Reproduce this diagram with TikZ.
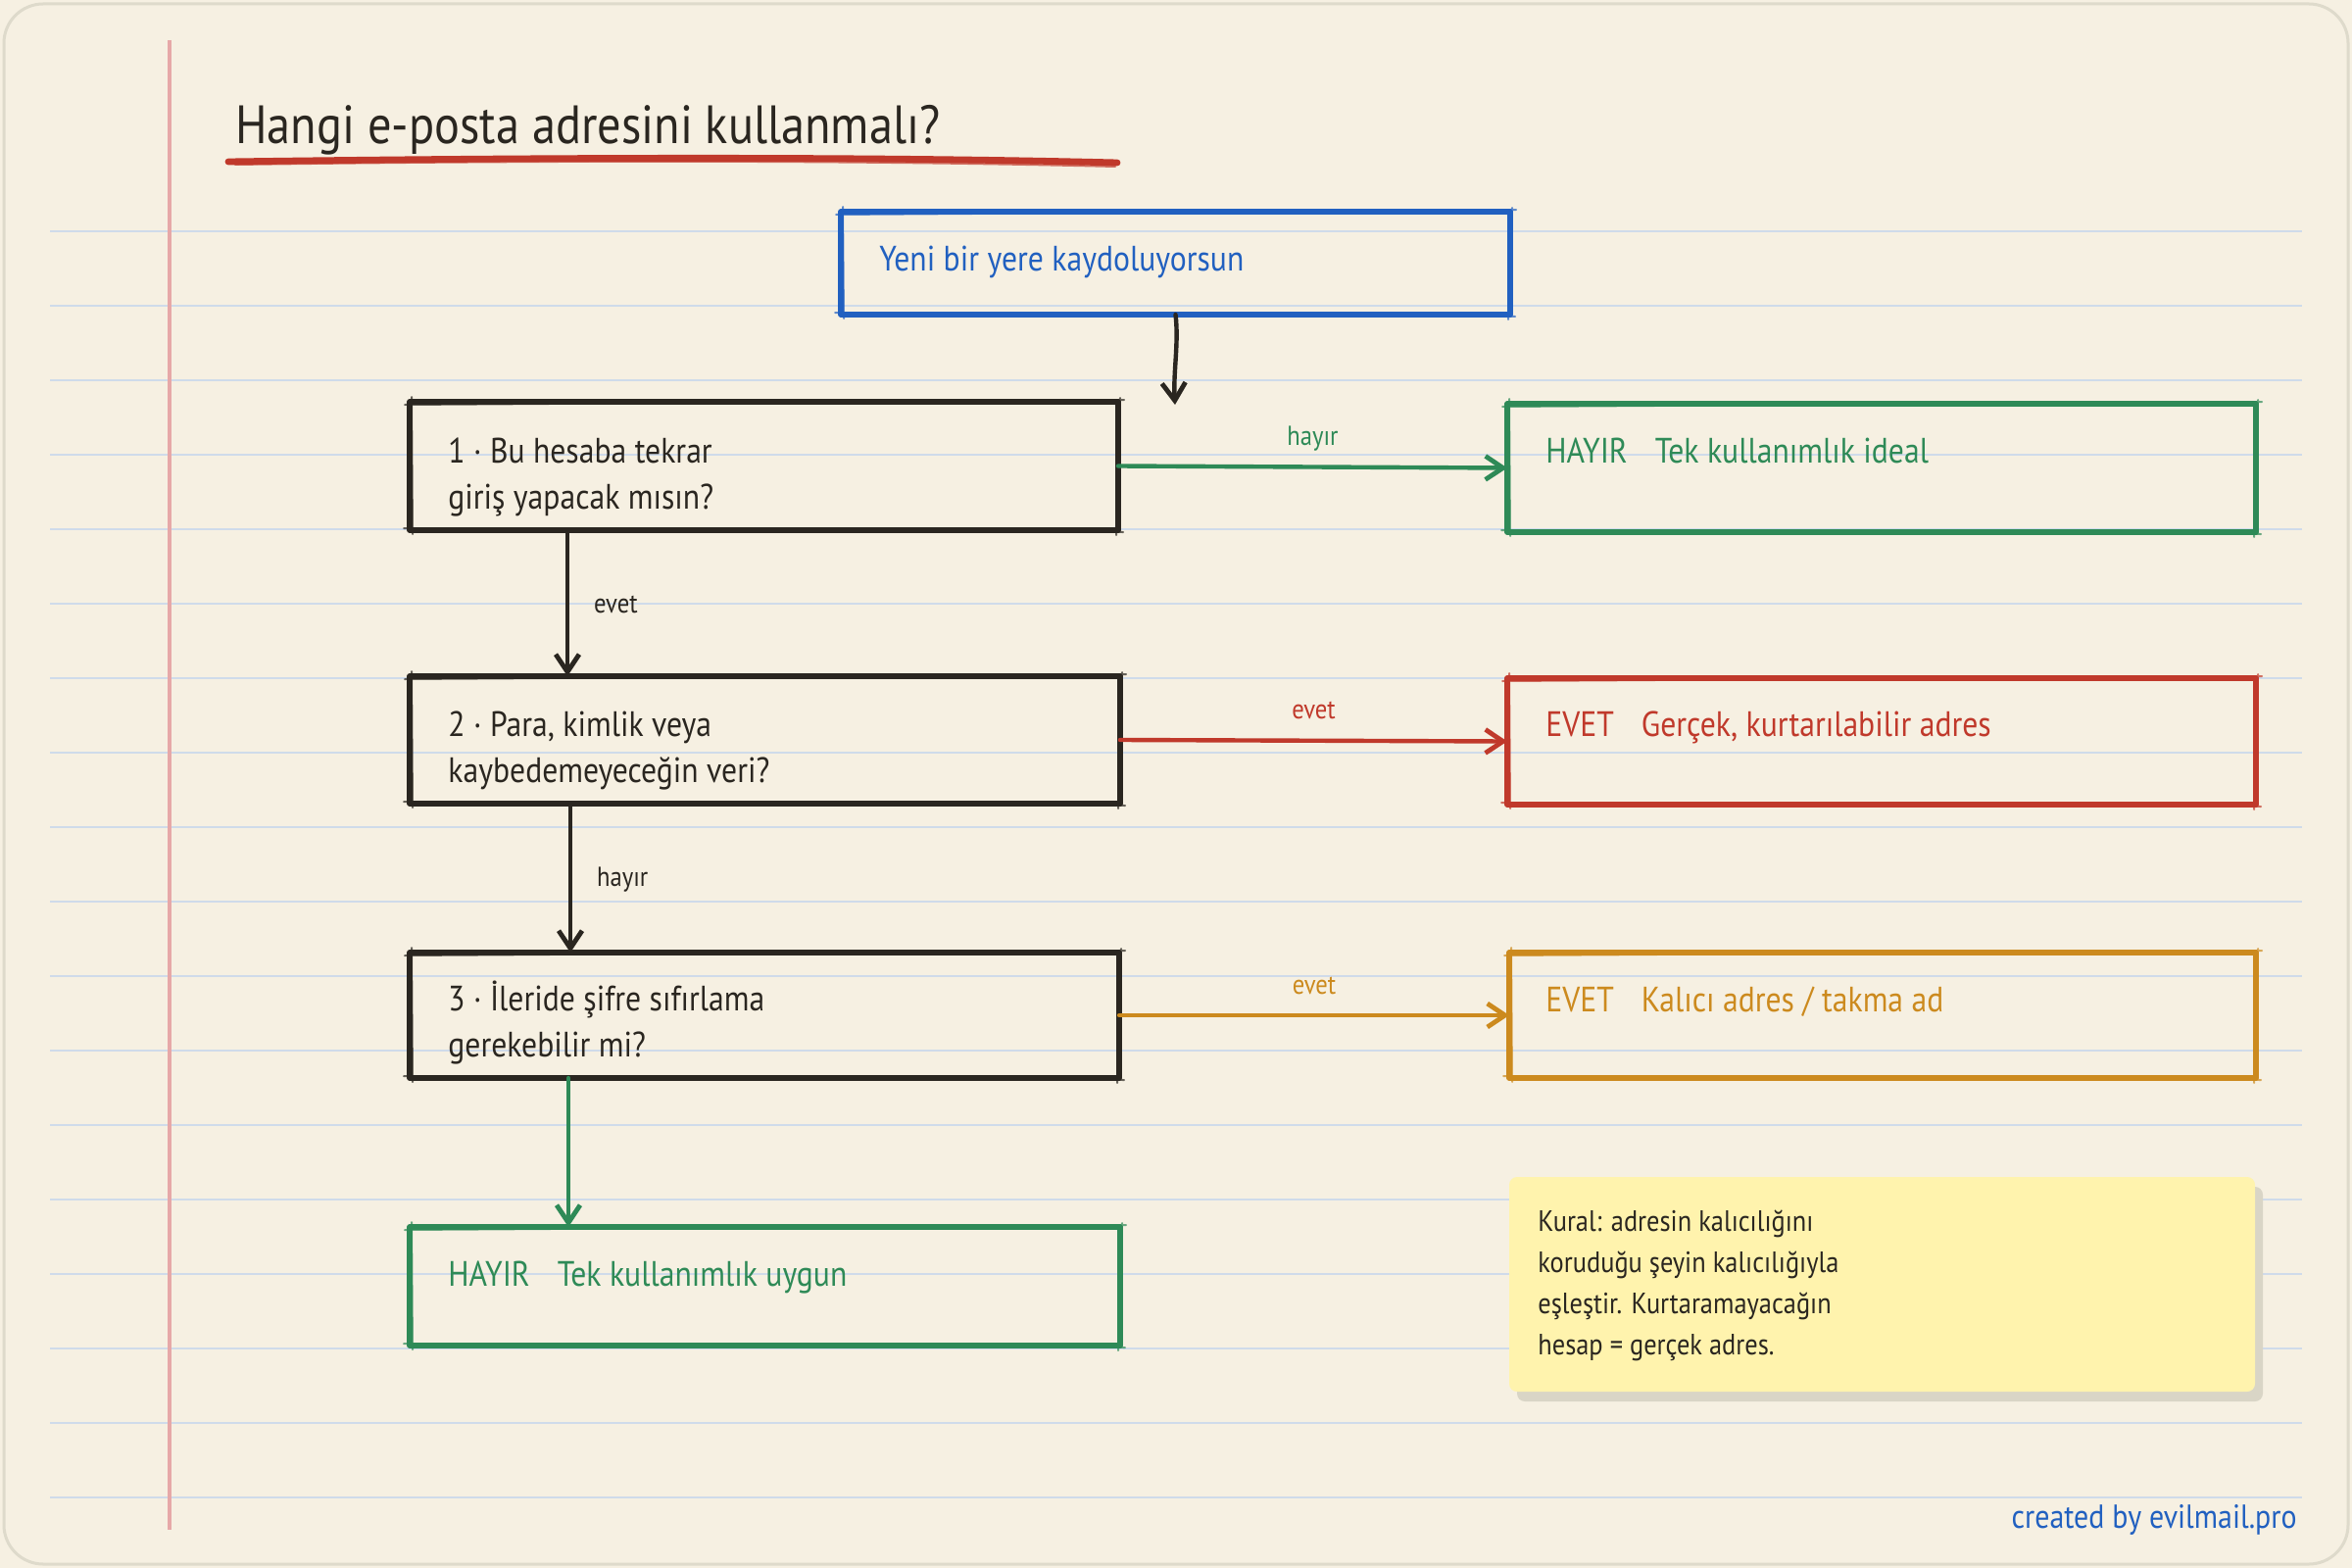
\documentclass[tikz,border=0pt]{standalone}
\usepackage{fontspec}
\setmainfont{PT Sans}[FakeStretch=0.88]
\usetikzlibrary{arrows.meta}
\definecolor{bg}{HTML}{F6F0E2}
\definecolor{frame}{HTML}{DEDACB}
\definecolor{rulec}{HTML}{CFDBEA}
\definecolor{marginc}{HTML}{E6A8A8}
\definecolor{ink}{HTML}{2A2620}
\definecolor{cblue}{HTML}{2160C0}
\definecolor{cgreen}{HTML}{2E8A57}
\definecolor{cred}{HTML}{C0392B}
\definecolor{corange}{HTML}{CC8A1E}
\definecolor{notec}{HTML}{FFF3AD}
\definecolor{shadowc}{HTML}{D9D5C6}
\tikzset{
  boxx/.style={draw=#1, line width=2.6pt, line join=round, inner sep=0pt, outer sep=0pt},
  txt/.style={anchor=base west, inner sep=0pt, text=#1, font=\fontsize{18pt}{23.5pt}\selectfont},
  arr/.style={draw=#1, line width=2.2pt, line cap=round, -{Straight Barb[length=9pt,width=12pt,line width=2.4pt]}},
  lbl/.style={text=#1, inner sep=0pt, font=\fontsize{14pt}{17pt}\selectfont},
}
\newcommand\skedge[2]{%
  \draw[#2, line width=1pt, line cap=round, opacity=0.7]
    ([shift={(-5,3)}]#1.north west) -- ([shift={(6,-2)}]#1.north east)
    ([shift={(2,-4)}]#1.north east) -- ([shift={(-2,5)}]#1.south east)
    ([shift={(5,2)}]#1.south east) -- ([shift={(-6,-2)}]#1.south west)
    ([shift={(3,4)}]#1.south west) -- ([shift={(2,-5)}]#1.north west);}
\begin{document}
\begin{tikzpicture}[x=0.5pt,y=-0.5pt]
\path[use as bounding box] (0,0) rectangle (2400,1600);
\fill[bg] (0,0) rectangle (2400,1600);
\draw[frame, line width=1.5pt, rounded corners=20pt] (4,4) rectangle (2396,1596);
% ruled lines
\foreach \k in {0,...,17} {\draw[rulec, line width=1.2pt] (51,236+76*\k) -- (2349,236+76*\k);}
\draw[marginc, line width=1.6pt] (173,41) -- (173,1561);
% title
\node[anchor=base west, inner sep=0pt, text=ink, font=\fontsize{27.5pt}{30pt}\selectfont] (title) at (240,147) {Hangi e-posta adresini kullanmalı?};
\draw[cred, line width=3.4pt, line cap=round] (233,165) .. controls (600,160) and (900,160) .. (1140,166);
\draw[cred, line width=1pt, line cap=round, opacity=0.7] (240,168) .. controls (600,163) and (900,164) .. (1138,170);
% boxes
\node[boxx=cblue, minimum width=341.5pt, minimum height=52.5pt] (start) at (1199.5,268.5) {};
\skedge{start}{cblue}
\node[txt=cblue] (tstart) at (897,276) {Yeni bir yere kaydoluyorsun};

\node[boxx=ink, minimum width=361.5pt, minimum height=65.5pt] (b1) at (779.5,475.5) {};
\skedge{b1}{ink}
\node[txt=ink] (t1a) at (457,472) {1 · Bu hesaba tekrar};
\node[txt=ink] (t1b) at (457,519) {giriş yapacak mısın?};

\node[boxx=cgreen, minimum width=382pt, minimum height=65.5pt] (h1) at (1920,477.5) {};
\skedge{h1}{cgreen}
\node[txt=cgreen] (th1) at (1577,472) {HAYIR\hspace{14pt}Tek kullanımlık ideal};

\node[boxx=ink, minimum width=362.5pt, minimum height=65pt] (b2) at (780.5,755) {};
\skedge{b2}{ink}
\node[txt=ink] (t2a) at (457,751) {2 · Para, kimlik veya};
\node[txt=ink] (t2b) at (457,798) {kaybedemeyeceğin veri?};

\node[boxx=cred, minimum width=382pt, minimum height=64.5pt] (e2) at (1920,756.5) {};
\skedge{e2}{cred}
\node[txt=cred] (te2) at (1577,751) {EVET\hspace{14pt}Gerçek, kurtarılabilir adres};

\node[boxx=ink, minimum width=362pt, minimum height=64pt] (b3) at (780,1036) {};
\skedge{b3}{ink}
\node[txt=ink] (t3a) at (457,1031) {3 · İleride şifre sıfırlama};
\node[txt=ink] (t3b) at (457,1078) {gerekebilir mi?};

\node[boxx=corange, minimum width=381pt, minimum height=64pt] (e3) at (1921,1036) {};
\skedge{e3}{corange}
\node[txt=corange] (te3) at (1577,1032) {EVET\hspace{14pt}Kalıcı adres / takma ad};

\node[boxx=cgreen, minimum width=362.5pt, minimum height=60.5pt] (h3) at (780.5,1312.5) {};
\skedge{h3}{cgreen}
\node[txt=cgreen] (th3) at (457,1312) {HAYIR\hspace{14pt}Tek kullanımlık uygun};

% note
\fill[shadowc, rounded corners=4pt] (1548,1211) rectangle (2309,1430);
\node[fill=notec, rounded corners=4pt, minimum width=380.5pt, minimum height=109.5pt, inner sep=0pt] (note) at (1920.5,1310.5) {};
\node[anchor=base west, inner sep=0pt, align=left, text=ink, font=\fontsize{15pt}{21pt}\selectfont] (tnote) at (1569,1382) {Kural: adresin kalıcılığını\\koruduğu şeyin kalıcılığıyla\\eşleştir. Kurtaramayacağın\\hesap = gerçek adres.};

% connectors
\coordinate (e0) at (1199,413);
\draw[arr=ink] (start.south) .. controls (1203,350) and (1197,380) .. (e0);
\coordinate (x1) at (579,0);
\coordinate (x2) at (582,0);
\coordinate (x3) at (580,0);
\draw[arr=cgreen] (b1.east) -- node[lbl=cgreen, anchor=base, yshift=11pt] (l1) {hayır} (h1.west);
\draw[arr=ink] (b1.south -| x1) -- node[lbl=ink, anchor=base west, xshift=12.5pt, yshift=-5pt] (l2) {evet} (b2.north -| x1);
\draw[arr=cred] (b2.east) -- node[lbl=cred, anchor=base, yshift=11pt] (l3) {evet} (e2.west);
\draw[arr=ink] (b2.south -| x2) -- node[lbl=ink, anchor=base west, xshift=12.5pt, yshift=-4pt] (l4) {hayır} (b3.north -| x2);
\draw[arr=corange] (b3.east) -- node[lbl=corange, anchor=base, yshift=11pt] (l5) {evet} (e3.west);
\draw[arr=cgreen] (b3.south -| x3) -- (h3.north -| x3);

\node[anchor=base east, inner sep=0pt, text=cblue, font=\fontsize{17pt}{20pt}\selectfont] (credit) at (2344,1559) {created by evilmail.pro};
\end{tikzpicture}
\end{document}
